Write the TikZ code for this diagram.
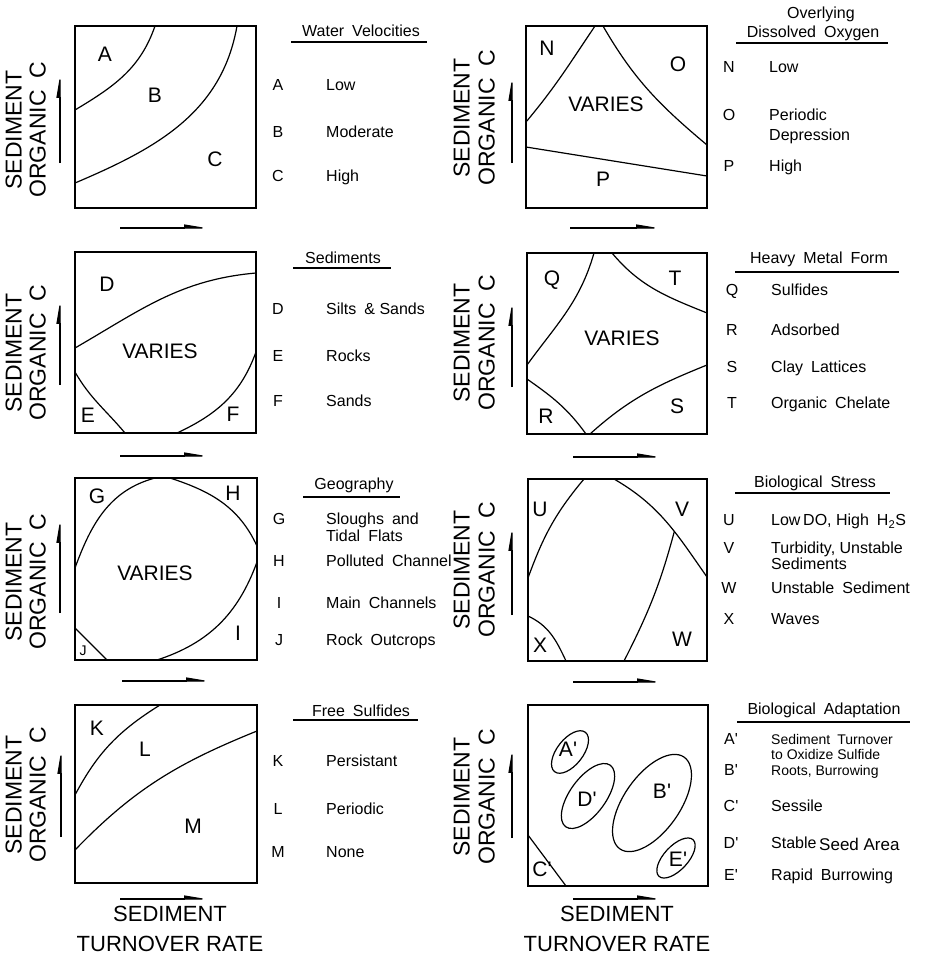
\documentclass[tikz,border=0pt]{standalone}
\usepackage{fontspec}
\setmainfont{Liberation Sans}
\usetikzlibrary{arrows.meta,calc,shapes.geometric}
\begin{document}
\begin{tikzpicture}[x=1pt,y=1pt,
  pframe/.style={line width=2.4pt},
  pcurve/.style={line width=1.2pt},
  parrow/.style={line width=1.2pt,-{Stealth[left,length=22pt,width=7pt,inset=0pt]}},
  plet/.style={font=\fontsize{21}{21}\selectfont, text height=0.72em, text depth=0pt, inner sep=0pt},
  pkeyl/.style={font=\fontsize{16}{16}\selectfont, text height=0.72em, text depth=0pt, inner sep=0pt},
  pkeyt/.style={font=\fontsize{16}{16}\selectfont, anchor=west, text height=0.72em, text depth=0pt, inner sep=0pt},
  psmall/.style={font=\fontsize{14}{14}\selectfont, anchor=west, text height=0.72em, text depth=0pt, inner sep=0pt},
  ptitle/.style={font=\fontsize{16}{16}\selectfont, text height=0.72em, text depth=0pt, inner sep=0pt},
  pylab/.style={font=\fontsize{23}{23}\selectfont, rotate=90, text height=0.72em, text depth=0pt, inner sep=0pt},
  pxlab/.style={font=\fontsize{22}{22}\selectfont, text height=0.72em, text depth=0pt, inner sep=0pt},
  pell/.style={draw, ellipse, line width=1.2pt, inner sep=0pt},
]
\useasboundingbox (0,0) rectangle (934,-962);

% ---------- Panel 1: Water Velocities ----------
\draw[pframe] (75,-26) rectangle (256,-208);
\draw[pcurve] (75,-110) to[out=31,in=251] (155,-26);
\draw[pcurve] (75,-183) to[out=23,in=260] (237,-26);
\node[plet] (p1a) at (105,-58) {A};
\node[plet] (p1b) at (155,-99) {B};
\node[plet] (p1c) at (215,-163) {C};
\node[ptitle] (t1) at (361,-33) {Water\enspace Velocities};
\draw[pcurve] (291,-42) -- (427,-42);
\node[pkeyl] (k1a) at (278,-87) {A}; \node[pkeyt] (d1a) at (326,-87) {Low};
\node[pkeyl] (k1b) at (278,-134) {B}; \node[pkeyt] (d1b) at (326,-134) {Moderate};
\node[pkeyl] (k1c) at (278,-178) {C}; \node[pkeyt] (d1c) at (326,-178) {High};
\node[pylab] (y1a) at (18,-130) {SEDIMENT};
\node[pylab] (y1b) at (42,-130) {ORGANIC\enspace C};
\draw[parrow] (60,-163) -- (60,-72);
\draw[parrow] (120,-228) -- (210,-228);

% ---------- Panel 2: Dissolved Oxygen ----------
\draw[pframe] (526,-26) rectangle (707,-208);
\draw[pcurve] (526,-122) to[out=50,in=236] (595,-26);
\draw[pcurve] (603,-26) to[out=-60,in=140] (707,-145);
\draw[pcurve] (526,-147) -- (707,-176);
\node[plet] (p2n) at (547,-52) {N};
\node[plet] (p2o) at (678,-68) {O};
\node[plet] (p2v) at (606,-108) {VARIES};
\node[plet] (p2p) at (603,-183) {P};
\node[ptitle] (t2a) at (821,-15) {Overlying};
\node[ptitle] (t2b) at (813,-34) {Dissolved\enspace Oxygen};
\draw[pcurve] (736,-43) -- (888,-43);
\node[pkeyl] (k2n) at (729,-69) {N}; \node[pkeyt] (d2n) at (769,-69) {Low};
\node[pkeyl] (k2o) at (729,-117) {O}; \node[pkeyt] (d2o) at (769,-117) {Periodic};
\node[pkeyt] (d2o2) at (769,-137) {Depression};
\node[pkeyl] (k2p) at (729,-168) {P}; \node[pkeyt] (d2p) at (769,-168) {High};
\node[pylab] (y2a) at (466,-118) {SEDIMENT};
\node[pylab] (y2b) at (491,-118) {ORGANIC\enspace C};
\draw[parrow] (512,-163) -- (512,-75);
\draw[parrow] (570,-228) -- (662,-228);

% ---------- Panel 3: Sediments ----------
\draw[pframe] (75,-252) rectangle (256,-433);
\draw[pcurve] (75,-348) to[out=30,in=185] (256,-273);
\draw[pcurve] (75,-372) to[out=-60,in=130] (125,-433);
\draw[pcurve] (177,-433) to[out=25,in=250] (256,-352);
\node[plet] (p3d) at (107,-288) {D};
\node[plet] (p3v) at (160,-355) {VARIES};
\node[plet] (p3e) at (88,-419) {E};
\node[plet] (p3f) at (233,-418) {F};
\node[ptitle] (t3) at (343,-260) {Sediments};
\draw[pcurve] (293,-268) -- (391,-268);
\node[pkeyl] (k3d) at (278,-311) {D}; \node[pkeyt] (d3d) at (326,-311) {Silts\enspace\& Sands};
\node[pkeyl] (k3e) at (278,-358) {E}; \node[pkeyt] (d3e) at (326,-358) {Rocks};
\node[pkeyl] (k3f) at (278,-403) {F}; \node[pkeyt] (d3f) at (326,-403) {Sands};
\node[pylab] (y3a) at (18,-353) {SEDIMENT};
\node[pylab] (y3b) at (42,-353) {ORGANIC\enspace C};
\draw[parrow] (60,-385) -- (60,-298);
\draw[parrow] (120,-456) -- (210,-456);

% ---------- Panel 4: Heavy Metal Form ----------
\draw[pframe] (527,-253) rectangle (707,-434);
\draw[pcurve] (527,-365) to[out=54,in=254] (594,-253);
\draw[pcurve] (612,-253) to[out=-50,in=158] (707,-313);
\draw[pcurve] (527,-379) to[out=-35,in=126] (586,-434);
\draw[pcurve] (590,-434) to[out=42,in=202] (707,-365);
\node[plet] (p4q) at (552,-282) {Q};
\node[plet] (p4t) at (675,-282) {T};
\node[plet] (p4v) at (622,-342) {VARIES};
\node[plet] (p4r) at (546,-420) {R};
\node[plet] (p4s) at (677,-410) {S};
\node[ptitle] (t4) at (819,-260) {Heavy\enspace Metal\enspace Form};
\draw[pcurve] (735,-272) -- (899,-272);
\node[pkeyl] (k4q) at (732,-292) {Q}; \node[pkeyt] (d4q) at (771,-292) {Sulfides};
\node[pkeyl] (k4r) at (732,-332) {R}; \node[pkeyt] (d4r) at (771,-332) {Adsorbed};
\node[pkeyl] (k4s) at (732,-369) {S}; \node[pkeyt] (d4s) at (771,-369) {Clay\enspace Lattices};
\node[pkeyl] (k4t) at (732,-405) {T}; \node[pkeyt] (d4t) at (771,-405) {Organic\enspace Chelate};
\node[pylab] (y4a) at (466,-343) {SEDIMENT};
\node[pylab] (y4b) at (491,-343) {ORGANIC\enspace C};
\draw[parrow] (512,-387) -- (512,-300);
\draw[parrow] (573,-457) -- (663,-457);

% ---------- Panel 5: Geography ----------
\draw[pframe] (75,-478) rectangle (257,-660);
\draw[pcurve] (75,-568) to[out=70,in=195] (155,-478);
\draw[pcurve] (170,-478) to[out=-18,in=115] (257,-546);
\draw[pcurve] (157,-660) to[out=18,in=250] (257,-562);
\draw[pcurve] (75,-628) -- (107,-660);
\node[plet] (p5g) at (97,-500) {G};
\node[plet] (p5h) at (233,-497) {H};
\node[plet] (p5v) at (155,-577) {VARIES};
\node[plet] (p5i) at (238,-637) {I};
\node[plet,font=\fontsize{14}{14}\selectfont] (p5j) at (83,-652) {J};
\node[ptitle] (t5) at (354,-486) {Geography};
\draw[pcurve] (303,-497) -- (400,-497);
\node[pkeyl] (k5g) at (279,-521) {G}; \node[pkeyt] (d5g) at (326,-521) {Sloughs\enspace and};
\node[pkeyt] (d5g2) at (326,-538) {Tidal\enspace Flats};
\node[pkeyl] (k5h) at (279,-563) {H}; \node[pkeyt] (d5h) at (326,-563) {Polluted\enspace Channel};
\node[pkeyl] (k5i) at (279,-605) {I}; \node[pkeyt] (d5i) at (326,-605) {Main\enspace Channels};
\node[pkeyl] (k5j) at (279,-642) {J}; \node[pkeyt] (d5j) at (326,-642) {Rock\enspace Outcrops};
\node[pylab] (y5a) at (18,-582) {SEDIMENT};
\node[pylab] (y5b) at (42,-582) {ORGANIC\enspace C};
\draw[parrow] (60,-613) -- (60,-517);
\draw[parrow] (122,-681) -- (212,-681);

% ---------- Panel 6: Biological Stress ----------
\draw[pframe] (528,-479) rectangle (707,-661);
\draw[pcurve] (528,-578) to[out=70,in=230] (584,-479);
\draw[pcurve] (614,-479) to[out=-30,in=125] coordinate[pos=0.6] (vj) (707,-577);
\draw[pcurve] (624,-661) to[out=63,in=255] (vj);
\draw[pcurve] (528,-616) to[out=-25,in=115] (566,-661);
\node[plet] (p6u) at (540,-513) {U};
\node[plet] (p6v) at (682,-513) {V};
\node[plet] (p6w) at (682,-643) {W};
\node[plet] (p6x) at (540,-649) {X};
\node[ptitle] (t6) at (815,-484) {Biological\enspace Stress};
\draw[pcurve] (735,-493) -- (890,-493);
\node[pkeyl] (k6u) at (729,-522) {U}; \node[pkeyt] (d6u) at (771,-522) {Low\,DO, High\enspace H\textsubscript{2}S};
\node[pkeyl] (k6v) at (729,-550) {V}; \node[pkeyt] (d6v) at (771,-550) {Turbidity, Unstable};
\node[pkeyt] (d6v2) at (771,-566) {Sediments};
\node[pkeyl] (k6w) at (729,-590) {W}; \node[pkeyt] (d6w) at (771,-590) {Unstable\enspace Sediment};
\node[pkeyl] (k6x) at (729,-621) {X}; \node[pkeyt] (d6x) at (771,-621) {Waves};
\node[pylab] (y6a) at (466,-570) {SEDIMENT};
\node[pylab] (y6b) at (491,-570) {ORGANIC\enspace C};
\draw[parrow] (512,-615) -- (512,-525);
\draw[parrow] (573,-682) -- (663,-682);

% ---------- Panel 7: Free Sulfides ----------
\draw[pframe] (75,-705) rectangle (257,-883);
\draw[pcurve] (75,-795) to[out=62,in=212] (160,-705);
\draw[pcurve] (75,-850) to[out=46,in=202] (257,-731);
\node[plet] (p7k) at (97,-732) {K};
\node[plet] (p7l) at (145,-753) {L};
\node[plet] (p7m) at (193,-830) {M};
\node[ptitle] (t7) at (361,-713) {Free\enspace Sulfides};
\draw[pcurve] (293,-720) -- (418,-720);
\node[pkeyl] (k7k) at (278,-763) {K}; \node[pkeyt] (d7k) at (326,-763) {Persistant};
\node[pkeyl] (k7l) at (278,-811) {L}; \node[pkeyt] (d7l) at (326,-811) {Periodic};
\node[pkeyl] (k7m) at (278,-854) {M}; \node[pkeyt] (d7m) at (326,-854) {None};
\node[pylab] (y7a) at (18,-795) {SEDIMENT};
\node[pylab] (y7b) at (42,-795) {ORGANIC\enspace C};
\draw[parrow] (61,-837) -- (61,-748);
\draw[parrow] (120,-899) -- (210,-899);
\node[pxlab] (x7a) at (170,-918) {SEDIMENT};
\node[pxlab] (x7b) at (170,-948) {TURNOVER RATE};

% ---------- Panel 8: Biological Adaptation ----------
\draw[pframe] (528,-705) rectangle (708,-886);
\node[pell, minimum width=50pt, minimum height=26pt, rotate=52] (ea) at (570,-752) {};
\node[pell, minimum width=76pt, minimum height=36pt, rotate=54] (ed) at (588,-796) {};
\node[pell, minimum width=112pt, minimum height=56pt, rotate=55] (eb) at (652,-803) {};
\node[pell, minimum width=50pt, minimum height=24pt, rotate=47] (ee) at (676,-858) {};
\draw[pcurve] (528,-835) -- (566,-886);
\node[plet] (p8a) at (568,-753) {A\textquotesingle};
\node[plet] (p8d) at (587,-803) {D\textquotesingle};
\node[plet] (p8b) at (662,-795) {B\textquotesingle};
\node[plet] (p8e) at (678,-863) {E\textquotesingle};
\node[plet] (p8c) at (542,-873) {C\textquotesingle};
\node[ptitle] (t8) at (824,-711) {Biological\enspace Adaptation};
\draw[pcurve] (737,-722) -- (910,-722);
\node[pkeyl] (k8a) at (731,-741) {A\textquotesingle}; \node[psmall] (d8a) at (771,-741) {Sediment\enspace Turnover};
\node[psmall] (d8a2) at (771,-756) {to Oxidize Sulfide};
\node[pkeyl] (k8b) at (731,-772) {B\textquotesingle}; \node[psmall] (d8b) at (771,-772) {Roots, Burrowing};
\node[pkeyl] (k8c) at (731,-808) {C\textquotesingle}; \node[pkeyt] (d8c) at (771,-808) {Sessile};
\node[pkeyl] (k8d) at (731,-845) {D\textquotesingle}; \node[pkeyt] (d8d) at (771,-845) {Stable\,\raisebox{-2pt}{\fontsize{17}{17}\selectfont Seed Area}};
\node[pkeyl] (k8e) at (731,-877) {E\textquotesingle}; \node[pkeyt] (d8e) at (771,-877) {Rapid\enspace Burrowing};
\node[pylab] (y8a) at (466,-797) {SEDIMENT};
\node[pylab] (y8b) at (491,-797) {ORGANIC\enspace C};
\draw[parrow] (512,-838) -- (512,-747);
\draw[parrow] (573,-899) -- (663,-899);
\node[pxlab] (x8a) at (617,-918) {SEDIMENT};
\node[pxlab] (x8b) at (617,-948) {TURNOVER RATE};
\end{tikzpicture}
\end{document}
